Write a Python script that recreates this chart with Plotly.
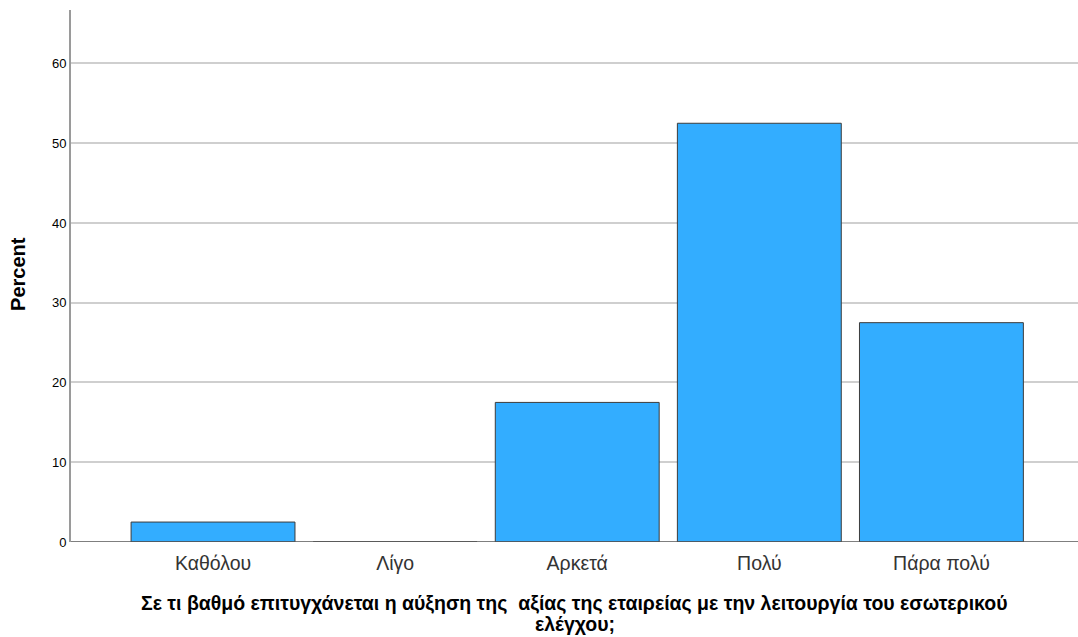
import plotly.graph_objects as go

categories = ["Καθόλου", "Λίγο", "Αρκετά", "Πολύ", "Πάρα πολύ"]
percent = [2.5, 0.0, 17.5, 52.5, 27.5]
y_ticks = [0, 10, 20, 30, 40, 50, 60]

x_title_lines = [
    "Σε τι βαθμό επιτυγχάνεται η αύξηση της  αξίας της εταιρείας με την λειτουργία του εσωτερικού",
    "ελέγχου;",
]

fig = go.Figure(
    go.Bar(
        x=list(range(len(categories))),
        y=percent,
        width=0.9,
        marker=dict(color="#33adff", line=dict(color="#3c3c3c", width=1)),
        hoverinfo="skip",
    )
)

fig.update_layout(
    width=1078,
    height=637,
    margin=dict(l=71, r=0, t=10, b=95),
    paper_bgcolor="white",
    plot_bgcolor="white",
    showlegend=False,
    font=dict(family="Liberation Sans, Arial, sans-serif", color="#000"),
)

fig.update_xaxes(
    range=[-0.78, 4.75],
    tickvals=list(range(len(categories))),
    ticktext=categories,
    tickfont=dict(size=19.5, color="#333"),
    ticklabelstandoff=7,
    showgrid=False,
    zeroline=False,
    showline=False,
    ticks="",
)

fig.update_yaxes(
    range=[0, 66.7],
    tickvals=y_ticks,
    tickfont=dict(size=13, color="#000"),
    showgrid=True,
    gridcolor="#cfcfcf",
    gridwidth=1.5,
    zeroline=False,
    showline=True,
    linecolor="#9a9a9a",
    linewidth=2,
    ticks="",
    ticklen=0,
)

# dark baseline along zero
fig.add_shape(type="line", xref="paper", yref="y", x0=0, x1=1, y0=0, y1=0,
              line=dict(color="#555", width=1.5), layer="above")

fig.add_annotation(
    text="<b>Percent</b>", xref="paper", yref="paper", x=-0.0521, y=0.503,
    xanchor="center", yanchor="middle", textangle=-90, showarrow=False,
    font=dict(size=20, color="#000"),
)

# axis title set as two tightly spaced lines
for line_text, ypos in zip(x_title_lines, [-0.1147, -0.1541]):
    fig.add_annotation(
        text="<b>" + line_text + "</b>",
        xref="paper", yref="paper", x=0.5, y=ypos,
        xanchor="center", yanchor="middle", showarrow=False,
        font=dict(size=19.5, color="#000"),
    )

fig.write_html("out.html")
